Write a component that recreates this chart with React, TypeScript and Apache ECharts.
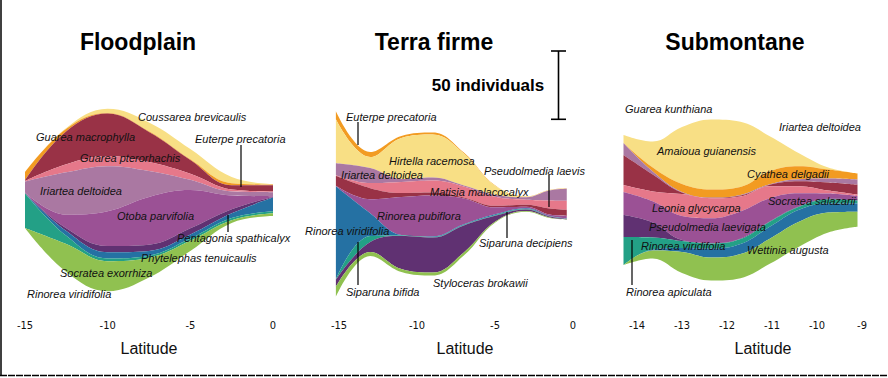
import React, { useEffect, useRef } from 'react';
import * as echarts from 'echarts';

// ---------------- scale ----------------
const SCALE_BAR_INDIVIDUALS = 50;
const PX_PER_INDIVIDUAL = 68.3 / 50;

// ---------------- Floodplain data (individuals) ----------------
const floodplainLatitude = [-15, -12.5, -10, -7.5, -5, -2.5, 0];
const floodplainSpecies = [
  'Coussarea brevicaulis', 'Euterpe precatoria', 'Guarea macrophylla', 'Guarea pterorhachis',
  'Iriartea deltoidea', 'Otoba parvifolia', 'Pentagonia spathicalyx', 'Phytelephas tenuicaulis',
  'Rinorea viridifolia', 'Socratea exorrhiza',
];
const floodplainAbundance = [
  [0, 0.5, 3, 6.5, 7.5, 4.5, 0.5],
  [6, 2, 0.5, 0.5, 0.5, 1.5, 0.5],
  [0.5, 24, 31, 22, 10, 3, 4.5],
  [0.5, 6, 7.5, 6.5, 4.5, 1.5, 0.5],
  [8, 31, 33, 19, 7.5, 3, 3],
  [0.5, 10, 25.5, 35, 28, 10, 0.5],
  [0, 2, 4.5, 4.5, 4.5, 3, 0.5],
  [0, 3.5, 4.5, 3.5, 3, 3.5, 10],
  [25.5, 6, 2, 1.5, 1.5, 1.5, 1.5],
  [0, 20.5, 22, 14.5, 7.5, 2, 2],
];

// ---------------- Terra firme data (individuals) ----------------
const terraFirmeLatitude = [-15.2, -13, -11, -9, -7, -5, -3, -1.5, -0.4];
const terraFirmeSpecies = [
  'Euterpe precatoria', 'Hirtella racemosa', 'Iriartea deltoidea', 'Matisia malacocalyx',
  'Pseudolmedia laevis', 'Rinorea pubiflora', 'Rinorea viridifolia', 'Siparuna bifida',
  'Siparuna decipiens', 'Styloceras brokawii',
];
const terraFirmeAbundance = [
  [5.9, 3.7, 1.5, 1.5, 0.7, 0.4, 0.2, 0.2, 0.2],
  [32.2, 8.1, 30, 31.5, 23.4, 6.6, 0.4, 0.2, 0.2],
  [8.8, 11, 2.2, 2.2, 0.7, 1.5, 1.8, 7.3, 8.8],
  [0.4, 3.7, 8.1, 8.8, 8.1, 6.6, 3.7, 5.9, 6.6],
  [7.3, 8.1, 2.9, 2.2, 0.7, 1.1, 1.5, 4.4, 4.4],
  [0.4, 10.2, 27.8, 30, 19, 5.1, 1.1, 1.1, 1.8],
  [68.1, 16.8, 0.4, 0.4, 0.4, 0.7, 0.5, 0.2, 0.2],
  [0.4, 4.4, 0.4, 0.4, 0.4, 0.4, 0.5, 0.2, 0.2],
  [5.1, 7.3, 24.2, 25.6, 19.8, 4.4, 1.1, 0.7, 0.4],
  [7.3, 2.9, 2.2, 2.2, 2.2, 0.7, 0.4, 0.4, 0.2],
];

// ---------------- Submontane data (individuals) ----------------
const submontaneLatitude = [-14.3, -13.65, -13, -12.35, -11.7, -11.05, -10.4, -9.75, -9.1];
const submontaneSpecies = [
  'Amaioua guianensis', 'Cyathea delgadii', 'Guarea kunthiana', 'Iriartea deltoidea',
  'Leonia glycycarpa', 'Pseudolmedia laevigata', 'Rinorea apiculata', 'Rinorea viridifolia',
  'Socratea salazarii', 'Wettinia augusta',
];
const submontaneAbundance = [
  [5.9, 19, 41.7, 51.2, 47.6, 25.6, 9.5, 1.5, 0.2],
  [0, 2.9, 5.9, 5.9, 5.9, 9.5, 9.5, 6.6, 4.4],
  [8.8, 2.2, 0.4, 0.2, 0.4, 0.4, 1.5, 2.9, 3.7],
  [22, 12.4, 1.1, 0.4, 0.7, 1.1, 3.7, 5.9, 7.3],
  [5.1, 7.3, 16.1, 14.6, 11, 8.8, 5.1, 2.2, 1.1],
  [16.8, 15.4, 17.6, 18.3, 19.8, 16.8, 9.5, 3.7, 2.2],
  [16.1, 11, 0.7, 0.2, 0.4, 0.4, 0.4, 0.7, 1.1],
  [20.5, 8.8, 5.1, 3.7, 3.7, 3.7, 2.2, 2.9, 2.2],
  [0, 0.7, 2.9, 6.6, 7.3, 8.8, 8.8, 6.6, 5.9],
  [0, 5.9, 15.4, 16.8, 17.6, 18.3, 18.3, 14.6, 11],
];

// ---------------- colours ----------------
const C = {
  yellow: '#f8df85', orange: '#f29b22', maroon: '#993246', pink: '#e6788a', lilac: '#aa78a2',
  purple: '#9b5195', darkPurple: '#603172', blue: '#2571a3', teal: '#23a086', green: '#90c150',
};
const floodplainColors = [C.yellow, C.orange, C.maroon, C.pink, C.lilac, C.purple, C.darkPurple, C.blue, C.teal, C.green];
const terraFirmeColors = [C.orange, C.yellow, C.lilac, C.pink, C.maroon, C.purple, C.blue, C.teal, C.darkPurple, C.green];
const submontaneColors = [C.yellow, C.orange, C.lilac, C.maroon, C.pink, C.purple, C.darkPurple, C.teal, C.blue, C.green];

// ---------------- layout (label anchors, in species order) ----------------
const floodplainLabelPos = [[138, 117], [195, 139], [36, 137], [80, 158], [40, 191], [117, 216], [177, 238], [141, 258], [27, 294], [60, 273]];
const terraFirmeLabelPos = [[346, 117], [389, 161], [341, 175], [430, 192], [484, 171], [377, 216], [305, 231], [346, 292], [479, 243], [433, 283]];
const submontaneLabelPos = [[657, 151], [747, 174], [625, 109], [779, 127], [652, 208], [649, 227], [626, 292], [641, 246], [768, 201], [747, 250]];
const leaderLines = [
  [241, 145, 187], [228, 215, 232],
  [358, 122, 145], [549, 175, 207], [507, 212, 238], [358, 242, 285],
  [632, 240, 285],
];

const panels = [
  {
    key: 'Floodplain', lat: floodplainLatitude, species: floodplainSpecies, rows: floodplainAbundance,
    colors: floodplainColors, labels: floodplainLabelPos, min: -15, max: 0, interval: 5, left: 25, width: 248, top: 100,
    titleX: 138, latX: 149,
  },
  {
    key: 'Terra firme', lat: terraFirmeLatitude, species: terraFirmeSpecies, rows: terraFirmeAbundance,
    colors: terraFirmeColors, labels: terraFirmeLabelPos, min: -15, max: 0, interval: 5, left: 339, width: 234, top: 104,
    titleX: 434, latX: 465,
  },
  {
    key: 'Submontane', lat: submontaneLatitude, species: submontaneSpecies, rows: submontaneAbundance,
    colors: submontaneColors, labels: submontaneLabelPos, min: -14, max: -9, interval: 1, left: 637, width: 225, top: 100,
    titleX: 735, latX: 763,
  },
];

const AXIS_HEIGHT = 200;
const FONT = '"Liberation Sans", Arial, Helvetica, sans-serif';
const TOP_Z = 100;

function maxTotal(rows: number[][]): number {
  let m = 0;
  for (let j = 0; j < rows[0].length; j++) {
    let s = 0;
    for (let i = 0; i < rows.length; i++) s += rows[i][j];
    if (s > m) m = s;
  }
  return m;
}

function riverData(p: any): any[] {
  const out: any[] = [];
  p.species.forEach((name: string, i: number) => {
    p.lat.forEach((x: number, j: number) => {
      out.push([x, p.rows[i][j], p.key + ' · ' + name]);
    });
  });
  return out;
}

function speciesText(text: string, x: number, y: number) {
  return {
    type: 'text', x, y, z: TOP_Z, silent: true,
    style: {
      text, fill: '#111', fontSize: 11, fontStyle: 'italic', fontFamily: FONT,
      textAlign: 'left', textVerticalAlign: 'middle',
    },
  };
}

function vline(x: number, y1: number, y2: number, w: number) {
  return { type: 'line', z: TOP_Z, silent: true, shape: { x1: x, y1, x2: x, y2 }, style: { stroke: '#000', lineWidth: w } };
}

export default function App() {
  const ref = useRef<HTMLDivElement>(null);

  useEffect(() => {
    if (!ref.current) return;
    const chart = echarts.init(ref.current, undefined, { renderer: 'svg' });

    const singleAxis = panels.map((p) => ({
      type: 'value',
      min: p.min, max: p.max, interval: p.interval,
      left: p.left, width: p.width, top: p.top, height: AXIS_HEIGHT,
      axisLine: { show: false }, axisTick: { show: false },
      splitLine: { show: false }, splitArea: { show: false },
      axisLabel: {
        show: true, margin: 320 - (p.top + AXIS_HEIGHT), color: '#111', fontSize: 11,
        fontFamily: '"Liberation Sans Narrow", "DejaVu Sans Condensed", Arial, sans-serif',
      },
    }));

    const series = panels.map((p, idx) => {
      const h = maxTotal(p.rows) * PX_PER_INDIVIDUAL;
      const gap = (AXIS_HEIGHT - h) / 2;
      return {
        type: 'themeRiver',
        singleAxisIndex: idx,
        boundaryGap: [gap, gap],
        color: p.colors,
        label: { show: false },
        emphasis: { disabled: true },
        silent: true,
        itemStyle: { borderWidth: 0 },
        data: riverData(p),
      };
    });

    const graphic: any[] = [];
    panels.forEach((p) => {
      graphic.push({
        type: 'text', x: p.titleX, y: 42, z: TOP_Z, silent: true,
        style: { text: p.key, fill: '#000', fontSize: 23, fontWeight: 'bold', fontFamily: FONT, textAlign: 'center', textVerticalAlign: 'middle' },
      });
      graphic.push({
        type: 'text', x: p.latX, y: 348, z: TOP_Z, silent: true,
        style: { text: 'Latitude', fill: '#111', fontSize: 16, fontFamily: FONT, textAlign: 'center', textVerticalAlign: 'middle' },
      });
      p.species.forEach((s: string, i: number) => graphic.push(speciesText(s, p.labels[i][0], p.labels[i][1])));
    });
    leaderLines.forEach(([x, y1, y2]) => graphic.push(vline(x, y1, y2, 1.2)));

    // scale bar: 50 individuals
    const barTop = 51;
    const barLen = SCALE_BAR_INDIVIDUALS * PX_PER_INDIVIDUAL;
    const barX = 558.5;
    graphic.push(vline(barX, barTop, barTop + barLen, 1.6));
    graphic.push({ type: 'line', z: TOP_Z, silent: true, shape: { x1: barX - 7.5, y1: barTop, x2: barX + 7.5, y2: barTop }, style: { stroke: '#000', lineWidth: 1.6 } });
    graphic.push({ type: 'line', z: TOP_Z, silent: true, shape: { x1: barX - 7.5, y1: barTop + barLen, x2: barX + 7.5, y2: barTop + barLen }, style: { stroke: '#000', lineWidth: 1.6 } });
    graphic.push({
      type: 'text', x: 488, y: 85, z: TOP_Z, silent: true,
      style: { text: SCALE_BAR_INDIVIDUALS + ' individuals', fill: '#000', fontSize: 17, fontWeight: 'bold', fontFamily: FONT, textAlign: 'center', textVerticalAlign: 'middle' },
    });

    // frame edges
    graphic.push(vline(1, 0, 376, 1.5));
    graphic.push({ type: 'line', z: TOP_Z, silent: true, shape: { x1: 0, y1: 375.5, x2: 888, y2: 375.5 }, style: { stroke: '#000', lineWidth: 1.5, lineDash: [7, 1] } });

    chart.setOption({
      animation: false,
      backgroundColor: '#fff',
      singleAxis,
      series,
      graphic,
    });

    return () => chart.dispose();
  }, []);

  return <div ref={ref} style={{ position: 'absolute', left: 0, top: 0, width: 888, height: 378 }} />;
}
